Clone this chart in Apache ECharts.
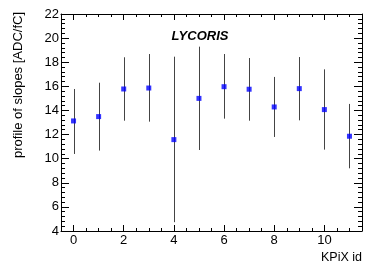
<!DOCTYPE html>
<html><head><meta charset="utf-8">
<script src="https://cdn.jsdelivr.net/npm/echarts@6/dist/echarts.min.js"></script>
<style>html,body{margin:0;padding:0;background:#fff}#c{width:381px;height:275px}</style>
</head><body><div id="c"></div>
<script>
var kpixIds = [0,1,2,3,4,5,6,7,8,9,10,11];
var slopeMean = [13.13, 13.49, 15.78, 15.86, 11.58, 15.00, 15.97, 15.76, 14.29, 15.81, 14.07, 11.86];
var slopeLow  = [10.39, 10.67, 13.15, 13.07, 4.73, 10.72, 13.32, 13.15, 11.80, 13.18, 10.75, 9.20];
var slopeHigh = [15.78, 16.30, 18.41, 18.68, 18.46, 19.29, 18.68, 18.35, 16.78, 18.43, 17.41, 14.54];
var xMajorTicks = [0,2,4,6,8,10];
var xMin = -0.5, xMax = 11.5, yMin = 4, yMax = 22, yStep = 2;

var xMinorTicks = [];
for (var v = xMin; v <= xMax + 1e-9; v += 0.5) { if (xMajorTicks.indexOf(v) < 0) xMinorTicks.push(v); }

var FONT = '"Liberation Sans", Arial, Helvetica, sans-serif';
var lineStyle = {color:'#000', width:1};

function xAx(pos, show, ticks, len, labels) {
  return {
    type:'value', position:pos, min:xMin, max:xMax, gridIndex:0,
    axisLine:{show:show, onZero:false, lineStyle:lineStyle},
    axisTick:{show:true, inside:true, length:len, customValues:ticks, lineStyle:lineStyle},
    axisLabel: labels ? {show:true, customValues:xMajorTicks, margin:3, color:'#000', fontSize:13, fontFamily:FONT} : {show:false},
    splitLine:{show:false}
  };
}
function yAx(pos, labels) {
  return {
    type:'value', position:pos, min:yMin, max:yMax, interval:yStep,
    axisLine:{show:true, onZero:false, lineStyle:lineStyle},
    axisTick:{show:true, inside:true, length:8, lineStyle:lineStyle},
    minorTick:{show:true, splitNumber:5, length:4, lineStyle:lineStyle},
    axisLabel: labels ? {show:true, margin:2, color:'#000', fontSize:13, fontFamily:FONT} : {show:false},
    splitLine:{show:false}, minorSplitLine:{show:false}
  };
}

var chart = echarts.init(document.getElementById('c'), null, {renderer:'canvas'});
var errData = kpixIds.map(function(x,i){ return [x, slopeLow[i], slopeHigh[i]]; });
var ptData = kpixIds.map(function(x,i){ return [x, slopeMean[i]]; });

chart.setOption({
  animation:false,
  backgroundColor:'#fff',
  grid:{left:61, right:19, top:14, bottom:44, containLabel:false},
  xAxis:[
    xAx('bottom', true, xMajorTicks, 6, true),
    xAx('bottom', false, xMinorTicks, 3, false),
    xAx('top', true, xMajorTicks, 6, false),
    xAx('top', false, xMinorTicks, 3, false)
  ],
  yAxis:[ yAx('left', true), yAx('right', false) ],
  graphic:[
    {type:'text', x:200, y:36, style:{text:'LYCORIS', font:'italic bold 13px ' + FONT, fill:'#000', textAlign:'center', textVerticalAlign:'middle'}},
    {type:'text', x:18, y:12, rotation:Math.PI/2, style:{text:'profile of slopes [ADC/fC]', font:'13px ' + FONT, fill:'#000', textAlign:'right', textVerticalAlign:'middle'}},
    {type:'text', x:362, y:258, style:{text:'KPiX id', font:'12.5px ' + FONT, fill:'#000', textAlign:'right', textVerticalAlign:'middle'}}
  ],
  series:[
    {
      type:'custom', xAxisIndex:0, yAxisIndex:0, data:errData,
      renderItem:function(params, api){
        var p1 = api.coord([api.value(0), api.value(1)]);
        var p2 = api.coord([api.value(0), api.value(2)]);
        var x = Math.round(p1[0]) + 0.5;
        return {type:'line', shape:{x1:x, y1:p1[1], x2:x, y2:p2[1]}, style:{stroke:'#444', lineWidth:1}};
      },
      silent:true, z:2
    },
    {
      type:'scatter', xAxisIndex:0, yAxisIndex:0, data:ptData,
      symbol:'rect', symbolSize:5, itemStyle:{color:'#0000ff'}, z:3, silent:true
    }
  ]
});
</script></body></html>
